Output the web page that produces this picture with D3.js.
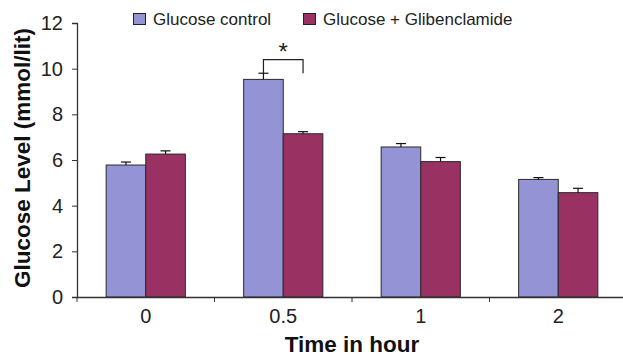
<!DOCTYPE html>
<html>
<head>
<meta charset="utf-8">
<script src="https://cdn.jsdelivr.net/npm/d3@7"></script>
<style>
  body { margin: 0; background: #fff; }
  svg { display: block; font-family: "Liberation Sans", Arial, sans-serif; }
</style>
</head>
<body>
<div id="chart"></div>
<script>
var times = ["0", "0.5", "1", "2"];
var seriesNames = ["Glucose control", "Glucose + Glibenclamide"];
var controlValues = [5.78, 9.53, 6.57, 5.15];
var controlErrors = [0.13, 0.27, 0.15, 0.08];
var glibValues = [6.26, 7.15, 5.93, 4.57];
var glibErrors = [0.14, 0.09, 0.18, 0.19];
var yTicks = [0, 2, 4, 6, 8, 10, 12];

var WIDTH = 623, HEIGHT = 360;
var colors = ["#9393d5", "#993163"];

var svg = d3.select("#chart").append("svg")
  .attr("width", WIDTH)
  .attr("height", HEIGHT);

var x0 = d3.scaleBand().domain(times).range([77, 627]).padding(0);
var x1 = d3.scaleBand().domain(seriesNames)
  .range([x0.bandwidth() * 0.212, x0.bandwidth() * 0.788]).padding(0);
var y = d3.scaleLinear().domain([0, 12]).range([297, 23]);

// rows for bars
var rows = [];
for (var i = 0; i < times.length; i++) {
  rows.push({time: times[i], series: seriesNames[0], value: controlValues[i], err: controlErrors[i], color: colors[0]});
  rows.push({time: times[i], series: seriesNames[1], value: glibValues[i], err: glibErrors[i], color: colors[1]});
}

// bars
svg.append("g").selectAll("rect")
  .data(rows)
  .enter().append("rect")
  .attr("x", function(d) { return x0(d.time) + x1(d.series); })
  .attr("y", function(d) { return y(d.value); })
  .attr("width", x1.bandwidth())
  .attr("height", function(d) { return y(0) - y(d.value); })
  .attr("fill", function(d) { return d.color; })
  .attr("stroke", "#2a2a2a")
  .attr("stroke-width", 1);

// error bars (upper only)
var eb = svg.append("g").attr("stroke", "#111").attr("stroke-width", 1.2);
rows.forEach(function(d) {
  var cx = x0(d.time) + x1(d.series) + x1.bandwidth() / 2;
  eb.append("line").attr("x1", cx).attr("x2", cx)
    .attr("y1", y(d.value)).attr("y2", y(d.value + d.err));
  eb.append("line").attr("x1", cx - 5).attr("x2", cx + 5)
    .attr("y1", y(d.value + d.err)).attr("y2", y(d.value + d.err));
});

// y axis
var yAxis = svg.append("g")
  .attr("transform", "translate(77,0)")
  .call(d3.axisLeft(y).tickValues(yTicks).tickSize(5).tickPadding(9).tickFormat(d3.format("d")));
yAxis.select(".domain").attr("stroke", "#333").attr("stroke-width", 1.3);
yAxis.selectAll(".tick line").attr("stroke", "#333");
yAxis.selectAll("text").attr("font-size", 20).attr("fill", "#222")
  .attr("font-family", "Liberation Sans, Arial, sans-serif");

// x axis
var xAxis = svg.append("g")
  .attr("transform", "translate(0,297)")
  .call(d3.axisBottom(x0).tickSize(0).tickPadding(12));
xAxis.select(".domain").attr("stroke", "#333").attr("stroke-width", 1.3);
xAxis.selectAll("text").attr("font-size", 20).attr("fill", "#222")
  .attr("font-family", "Liberation Sans, Arial, sans-serif");
// boundary ticks between categories
svg.append("g").selectAll("line")
  .data(times)
  .enter().append("line")
  .attr("x1", function(d) { return x0(d); })
  .attr("x2", function(d) { return x0(d); })
  .attr("y1", 297).attr("y2", 302)
  .attr("stroke", "#333");

// axis titles
svg.append("text")
  .attr("x", 352).attr("y", 352)
  .attr("text-anchor", "middle")
  .attr("font-size", 22.5).attr("font-weight", "bold").attr("fill", "#111")
  .text("Time in hour");

svg.append("text")
  .attr("transform", "translate(30,158) rotate(-90)")
  .attr("text-anchor", "middle")
  .attr("font-size", 22.5).attr("font-weight", "bold").attr("fill", "#111")
  .text("Glucose Level (mmol/lit)");

// significance bracket between the two 0.5 h bars
var bx1 = x0("0.5") + x1(seriesNames[0]) + x1.bandwidth() / 2;
var bx2 = x0("0.5") + x1(seriesNames[1]) + x1.bandwidth() / 2;
svg.append("path")
  .attr("d", "M" + bx1 + "," + y(9.8) + "V" + y(10.4) + "H" + bx2 + "V" + y(9.8))
  .attr("fill", "none").attr("stroke", "#222").attr("stroke-width", 1.2);
svg.append("text")
  .attr("x", (bx1 + bx2) / 2).attr("y", 60)
  .attr("text-anchor", "middle")
  .attr("font-size", 24).attr("fill", "#222")
  .text("*");

// legend
var legendX = [133, 303];
seriesNames.forEach(function(name, i) {
  var g = svg.append("g").attr("transform", "translate(" + legendX[i] + ",13)");
  g.append("rect").attr("x", 0.5).attr("y", 0.5).attr("width", 12).attr("height", 11)
    .attr("fill", colors[i]).attr("stroke", "#222").attr("stroke-width", 1);
  g.append("text").attr("x", 20).attr("y", 12)
    .attr("font-size", 17).attr("fill", "#222")
    .text(name);
});
</script>
</body>
</html>
